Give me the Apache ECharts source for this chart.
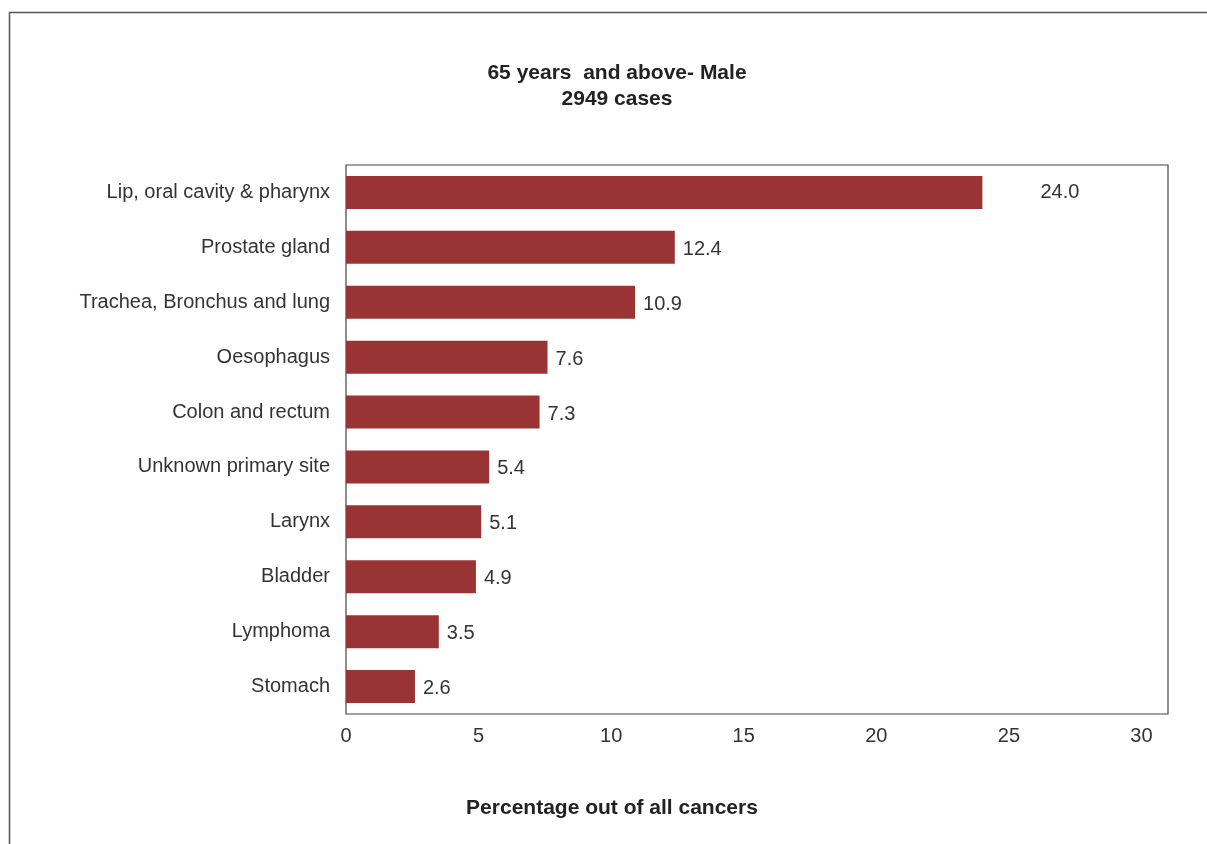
<!DOCTYPE html>
<html><head><meta charset="utf-8">
<script src="https://cdn.jsdelivr.net/npm/echarts@6/dist/echarts.min.js"></script>
<style>html,body{margin:0;padding:0;background:#fff}#c{width:1207px;height:844px}</style>
</head><body><div id="c"></div>
<script>
const categories = ["Lip, oral cavity & pharynx","Prostate gland","Trachea, Bronchus and lung","Oesophagus","Colon and rectum","Unknown primary site","Larynx","Bladder","Lymphoma","Stomach"];
const values = [24.0, 12.4, 10.9, 7.6, 7.3, 5.4, 5.1, 4.9, 3.5, 2.6];
const xTicks = [0, 5, 10, 15, 20, 25, 30];

const font = '"Liberation Sans", Arial, Helvetica, sans-serif';
const chart = echarts.init(document.getElementById('c'), null, {renderer: 'canvas'});
chart.setOption({
  animation: false,
  backgroundColor: '#fff',
  title: {
    text: '65 years  and above- Male\n2949 cases',
    left: 612, top: 55, textAlign: 'center',
    textStyle: {fontFamily: font, fontSize: 21, fontWeight: 'bold', color: '#222', lineHeight: 26}
  },
  graphic: [{
    type: 'polyline', silent: true,
    shape: {points: [[9.5, 844], [9.5, 12.5], [1207, 12.5]]},
    style: {stroke: '#555', lineWidth: 1.5, fill: null}
  }],
  grid: {
    left: 346, top: 165, width: 822, height: 549,
    show: true, borderColor: '#444', borderWidth: 1.2, backgroundColor: '#fff'
  },
  xAxis: {
    type: 'value', min: 0, max: 31, interval: 5,
    axisLine: {show: false}, axisTick: {show: false}, splitLine: {show: false},
    axisLabel: {
      showMaxLabel: false, margin: 12,
      fontFamily: font, fontSize: 20, color: '#333',
      formatter: v => xTicks.includes(v) ? String(v) : ''
    },
    name: 'Percentage out of all cancers', nameLocation: 'middle', nameGap: 84,
    nameTextStyle: {fontFamily: font, fontSize: 21, fontWeight: 'bold', color: '#222', padding: [0, 290, 0, 0]}
  },
  yAxis: {
    type: 'category', data: categories, inverse: true,
    axisLine: {show: false}, axisTick: {show: false},
    axisLabel: {margin: 16, fontFamily: font, fontSize: 20, color: '#333'}
  },
  series: [{
    type: 'bar',
    data: values.map((v, i) => i === 0 ? {value: v, label: {offset: [50, 0]}} : v),
    barWidth: 33,
    itemStyle: {color: '#9a3434'},
    label: {
      show: true, position: 'right', distance: 8, offset: [0, 2],
      fontFamily: font, fontSize: 20, color: '#333',
      formatter: p => p.value.toFixed(1)
    }
  }]
});
</script></body></html>
